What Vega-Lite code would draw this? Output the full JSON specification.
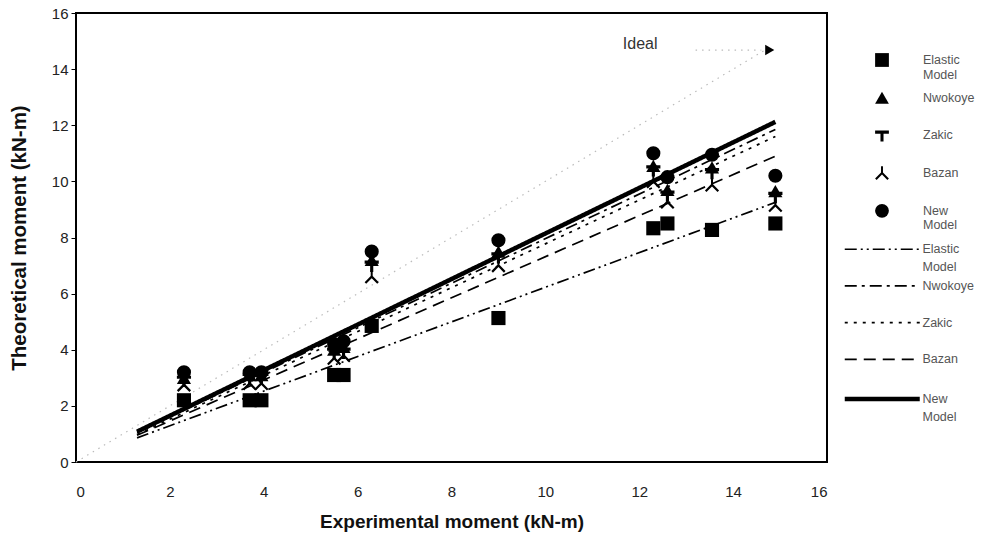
{
  "$schema": "https://vega.github.io/schema/vega-lite/v6.json",
  "width": 751,
  "height": 449,
  "autosize": {"type": "none"},
  "padding": {"left": 76, "top": 13, "right": 170, "bottom": 77},
  "background": "white",
  "config": {
    "view": {"stroke": "black", "strokeWidth": 2},
    "font": "Liberation Sans",
    "axis": {
      "grid": false,
      "domain": false,
      "labelFont": "'Liberation Sans Narrow', 'Liberation Sans'",
      "labelFontSize": 15,
      "labelColor": "#222",
      "tickColor": "black",
      "titleFont": "Liberation Sans",
      "titleFontWeight": "bold",
      "titleColor": "#111"
    },
    "legend": {
      "labelFont": "Liberation Sans",
      "labelFontSize": 12.5,
      "labelColor": "#555",
      "padding": 0
    }
  },
  "datasets": {
    "points": [
      {"x": 2.3, "y": 2.2, "model": "Elastic Model"},
      {"x": 3.7, "y": 2.2, "model": "Elastic Model"},
      {"x": 3.95, "y": 2.2, "model": "Elastic Model"},
      {"x": 5.5, "y": 3.1, "model": "Elastic Model"},
      {"x": 5.7, "y": 3.1, "model": "Elastic Model"},
      {"x": 6.3, "y": 4.85, "model": "Elastic Model"},
      {"x": 9.0, "y": 5.13, "model": "Elastic Model"},
      {"x": 12.3, "y": 8.33, "model": "Elastic Model"},
      {"x": 12.6, "y": 8.5, "model": "Elastic Model"},
      {"x": 13.55, "y": 8.27, "model": "Elastic Model"},
      {"x": 14.9, "y": 8.5, "model": "Elastic Model"},
      {"x": 2.3, "y": 3.0, "model": "Nwokoye"},
      {"x": 3.7, "y": 3.1, "model": "Nwokoye"},
      {"x": 3.95, "y": 3.1, "model": "Nwokoye"},
      {"x": 5.5, "y": 4.0, "model": "Nwokoye"},
      {"x": 5.7, "y": 4.1, "model": "Nwokoye"},
      {"x": 6.3, "y": 7.2, "model": "Nwokoye"},
      {"x": 9.0, "y": 7.5, "model": "Nwokoye"},
      {"x": 12.3, "y": 10.55, "model": "Nwokoye"},
      {"x": 12.6, "y": 9.7, "model": "Nwokoye"},
      {"x": 13.55, "y": 10.5, "model": "Nwokoye"},
      {"x": 14.9, "y": 9.65, "model": "Nwokoye"},
      {"x": 2.3, "y": 2.9, "model": "Zakic"},
      {"x": 3.7, "y": 3.0, "model": "Zakic"},
      {"x": 3.95, "y": 3.0, "model": "Zakic"},
      {"x": 5.5, "y": 3.9, "model": "Zakic"},
      {"x": 5.7, "y": 3.9, "model": "Zakic"},
      {"x": 6.3, "y": 7.0, "model": "Zakic"},
      {"x": 9.0, "y": 7.3, "model": "Zakic"},
      {"x": 12.3, "y": 10.4, "model": "Zakic"},
      {"x": 12.6, "y": 9.5, "model": "Zakic"},
      {"x": 13.55, "y": 10.3, "model": "Zakic"},
      {"x": 14.9, "y": 9.45, "model": "Zakic"},
      {"x": 2.3, "y": 2.75, "model": "Bazan"},
      {"x": 3.7, "y": 2.8, "model": "Bazan"},
      {"x": 3.95, "y": 2.8, "model": "Bazan"},
      {"x": 5.5, "y": 3.7, "model": "Bazan"},
      {"x": 5.7, "y": 3.8, "model": "Bazan"},
      {"x": 6.3, "y": 6.6, "model": "Bazan"},
      {"x": 9.0, "y": 7.0, "model": "Bazan"},
      {"x": 12.3, "y": 10.0, "model": "Bazan"},
      {"x": 12.6, "y": 9.27, "model": "Bazan"},
      {"x": 13.55, "y": 9.87, "model": "Bazan"},
      {"x": 14.9, "y": 9.15, "model": "Bazan"},
      {"x": 2.3, "y": 3.2, "model": "New Model"},
      {"x": 3.7, "y": 3.2, "model": "New Model"},
      {"x": 3.95, "y": 3.2, "model": "New Model"},
      {"x": 5.5, "y": 4.2, "model": "New Model"},
      {"x": 5.7, "y": 4.3, "model": "New Model"},
      {"x": 6.3, "y": 7.5, "model": "New Model"},
      {"x": 9.0, "y": 7.9, "model": "New Model"},
      {"x": 12.3, "y": 11.0, "model": "New Model"},
      {"x": 12.6, "y": 10.15, "model": "New Model"},
      {"x": 13.55, "y": 10.95, "model": "New Model"},
      {"x": 14.9, "y": 10.2, "model": "New Model"}
    ],
    "lines": [
      {"x": 1.3, "y": 0.86, "model": "Elastic Model"},
      {"x": 14.9, "y": 9.25, "model": "Elastic Model"},
      {"x": 1.3, "y": 1.05, "model": "Nwokoye"},
      {"x": 14.9, "y": 11.85, "model": "Nwokoye"},
      {"x": 1.3, "y": 0.98, "model": "Zakic"},
      {"x": 14.9, "y": 11.6, "model": "Zakic"},
      {"x": 1.3, "y": 0.95, "model": "Bazan"},
      {"x": 14.9, "y": 10.9, "model": "Bazan"},
      {"x": 1.3, "y": 1.08, "model": "New Model"},
      {"x": 14.9, "y": 12.12, "model": "New Model"}
    ],
    "ideal": [
      {"x": 0, "y": 0, "seg": "diagonal"},
      {"x": 14.7, "y": 14.7, "seg": "diagonal"},
      {"x": 13.2, "y": 14.68, "seg": "pointer"},
      {"x": 14.6, "y": 14.68, "seg": "pointer"}
    ],
    "note": [
      {"x": 11.65, "y": 14.9, "label": "Ideal", "ax": 14.78, "ay": 14.68}
    ]
  },
  "layer": [
    {
      "data": {"name": "ideal"},
      "mark": {"type": "line", "color": "#bbb", "strokeWidth": 1.2, "strokeDash": [1.5, 5]},
      "encoding": {
        "x": {"field": "x", "type": "quantitative", "scale": {"domain": [0, 16], "nice": false},
          "axis": {"values": [0, 2, 4, 6, 8, 10, 12, 14, 16], "title": "Experimental moment (kN-m)", "titleFontSize": 19, "tickSize": 0, "labelPadding": 22, "titlePadding": 13}},
        "y": {"field": "y", "type": "quantitative", "scale": {"domain": [0, 16], "nice": false},
          "axis": {"values": [0, 2, 4, 6, 8, 10, 12, 14, 16], "title": "Theoretical moment (kN-m)", "titleFontSize": 20.5, "tickSize": 5, "labelPadding": 3, "titlePadding": 22}},
        "detail": {"field": "seg", "type": "nominal"}
      }
    },
    {
      "data": {"name": "note"},
      "mark": {"type": "text", "align": "left", "baseline": "middle", "fontSize": 16, "font": "Liberation Sans", "color": "#333"},
      "encoding": {
        "x": {"field": "x", "type": "quantitative"},
        "y": {"field": "y", "type": "quantitative"},
        "text": {"field": "label"}
      }
    },
    {
      "data": {"name": "note"},
      "mark": {"type": "point", "shape": "triangle-right", "filled": true, "color": "black", "size": 110, "opacity": 1},
      "encoding": {
        "x": {"field": "ax", "type": "quantitative"},
        "y": {"field": "ay", "type": "quantitative"}
      }
    },
    {
      "data": {"name": "lines"},
      "mark": {"type": "line", "color": "black"},
      "encoding": {
        "x": {"field": "x", "type": "quantitative"},
        "y": {"field": "y", "type": "quantitative"},
        "strokeDash": {
          "field": "model", "type": "nominal", "sort": null,
          "scale": {"range": [[12, 4, 2, 4, 2, 4], [12, 5, 3, 5], [3, 6], [12, 7], [1, 0]]},
          "legend": {
            "title": null, "orient": "none", "legendX": 800, "legendY": 230,
            "symbolType": "M-5,0L5,0", "symbolSize": 225, "symbolStrokeColor": "black",
            "labelOffset": 34, "rowPadding": 5.7,
            "labelExpr": "datum.label == 'Elastic Model' ? ['Elastic', 'Model'] : datum.label == 'New Model' ? ['New', 'Model'] : [datum.label, '']",
            "encode": {
              "symbols": {"update": {"strokeWidth": {"signal": "datum.value == 'New Model' ? 4.5 : 1.7"}}},
              "labels": {"update": {"lineHeight": {"value": 18}}}
            }
          }
        },
        "strokeWidth": {"condition": {"test": "datum.model == 'New Model'", "value": 4.5}, "value": 1.7}
      }
    },
    {
      "data": {"name": "points"},
      "mark": {"type": "point", "filled": true, "color": "black", "size": 200, "opacity": 1},
      "encoding": {
        "x": {"field": "x", "type": "quantitative"},
        "y": {"field": "y", "type": "quantitative"},
        "shape": {
          "field": "model", "type": "nominal", "sort": null,
          "scale": {"range": [
            "square",
            "triangle-up",
            "M-1,-0.7L1,-0.7L1,-0.25L0.22,-0.25L0.22,0.9L-0.22,0.9L-0.22,-0.25L-1,-0.25Z",
            "M-0.14,-1L0.14,-1L0.14,-0.1L1,0.78L0.78,1L0,0.22L-0.78,1L-1,0.78L-0.14,-0.1Z",
            "circle"
          ]},
          "legend": {
            "title": null, "orient": "none", "legendX": 799, "legendY": 40,
            "symbolSize": 190, "symbolFillColor": "black", "symbolStrokeColor": "black", "symbolStrokeWidth": 0,
            "symbolOpacity": 1,
            "labelOffset": 34, "rowPadding": 9.7,
            "labelExpr": "datum.label == 'Elastic Model' ? ['Elastic', 'Model'] : datum.label == 'New Model' ? ['New', 'Model'] : [datum.label, '']",
            "encode": {
              "labels": {"update": {"lineHeight": {"value": 18}}}
            }
          }
        }
      }
    }
  ]
}
